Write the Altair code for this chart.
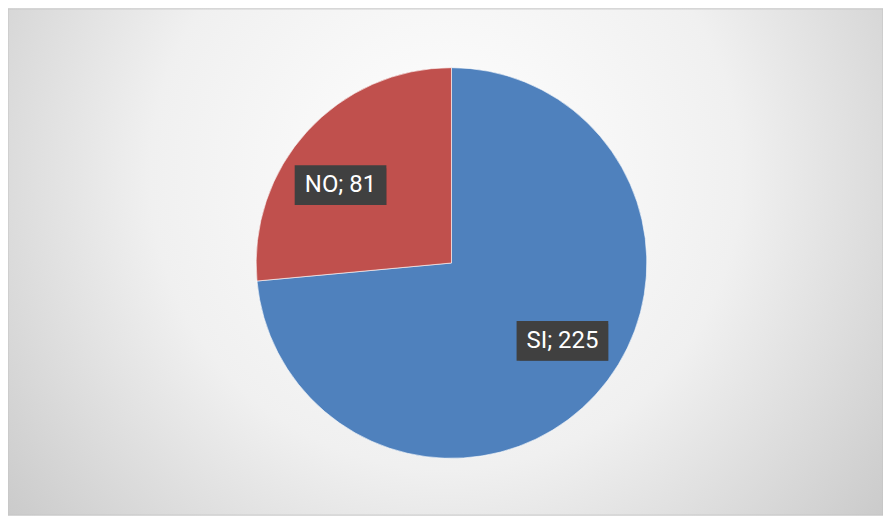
import altair as alt
import pandas as pd

# Data
categories = ["SI", "NO"]
values = [225, 81]
order = [0, 1]
colors = ["#4F81BD", "#C0504D"]

df = pd.DataFrame({"category": categories, "value": values, "ord": order})

W, H = 878, 508
CX, CY = 445, 255
R = 196
LR = 136
BW, BH = 92, 40

gradient = {
    "gradient": "radial",
    "x1": 0.5, "y1": 0.4, "r1": 0,
    "x2": 0.5, "y2": 0.4, "r2": 0.75,
    "stops": [
        {"offset": 0, "color": "#ffffff"},
        {"offset": 0.45, "color": "#f0f0f0"},
        {"offset": 1, "color": "#bcbcbc"},
    ],
}

bg = alt.Chart(pd.DataFrame({"a": [0]})).mark_rect(
    fill=gradient, stroke="#c4c4c4", strokeWidth=1
).encode(
    x=alt.value(0), x2=alt.value(W), y=alt.value(0), y2=alt.value(H)
)

base = alt.Chart(df)

pie = base.mark_arc(radius=R, stroke="#ffffff", strokeWidth=0.6).encode(
    theta=alt.Theta("value:Q", stack=True),
    color=alt.Color("category:N", scale=alt.Scale(domain=categories, range=colors), legend=None),
    order=alt.Order("ord:Q"),
    x=alt.value(CX),
    y=alt.value(CY),
)

lab = base.transform_joinaggregate(
    total="sum(value)"
).transform_window(
    cum="sum(value)", sort=[alt.SortField("ord", order="ascending")]
).transform_calculate(
    ang="2*PI*(datum.cum - datum.value/2)/datum.total - 7.3*PI/180"
).transform_calculate(
    lx=f"{CX} + {LR}*sin(datum.ang)",
    ly=f"{CY} - {LR}*cos(datum.ang)",
).transform_calculate(
    x0=f"datum.lx - {BW/2}",
    x1=f"datum.lx + {BW/2}",
    y0=f"datum.ly - {BH/2}",
    y1=f"datum.ly + {BH/2}",
    label="datum.category + '; ' + datum.value",
)

shadow = lab.mark_rect(color="#000000", opacity=0.28, xOffset=3, yOffset=3).encode(
    x=alt.X("x0:Q", scale=None, axis=None),
    x2="x1:Q",
    y=alt.Y("y0:Q", scale=None, axis=None),
    y2="y1:Q",
)

box = lab.mark_rect(color="#404040").encode(
    x=alt.X("x0:Q", scale=None, axis=None),
    x2="x1:Q",
    y=alt.Y("y0:Q", scale=None, axis=None),
    y2="y1:Q",
)

txt = lab.mark_text(
    font="Roboto", fontSize=24, color="#ffffff", align="center", baseline="middle"
).encode(
    x=alt.X("lx:Q", scale=None, axis=None),
    y=alt.Y("ly:Q", scale=None, axis=None),
    text="label:N",
)

chart = alt.layer(bg, pie, shadow, box, txt).properties(
    width=W, height=H, padding=0, autosize=alt.AutoSizeParams(type="none"),
    background="#ffffff",
).configure_view(stroke=None)

chart.save("out.html", embed_options={"renderer": "svg", "actions": False})
